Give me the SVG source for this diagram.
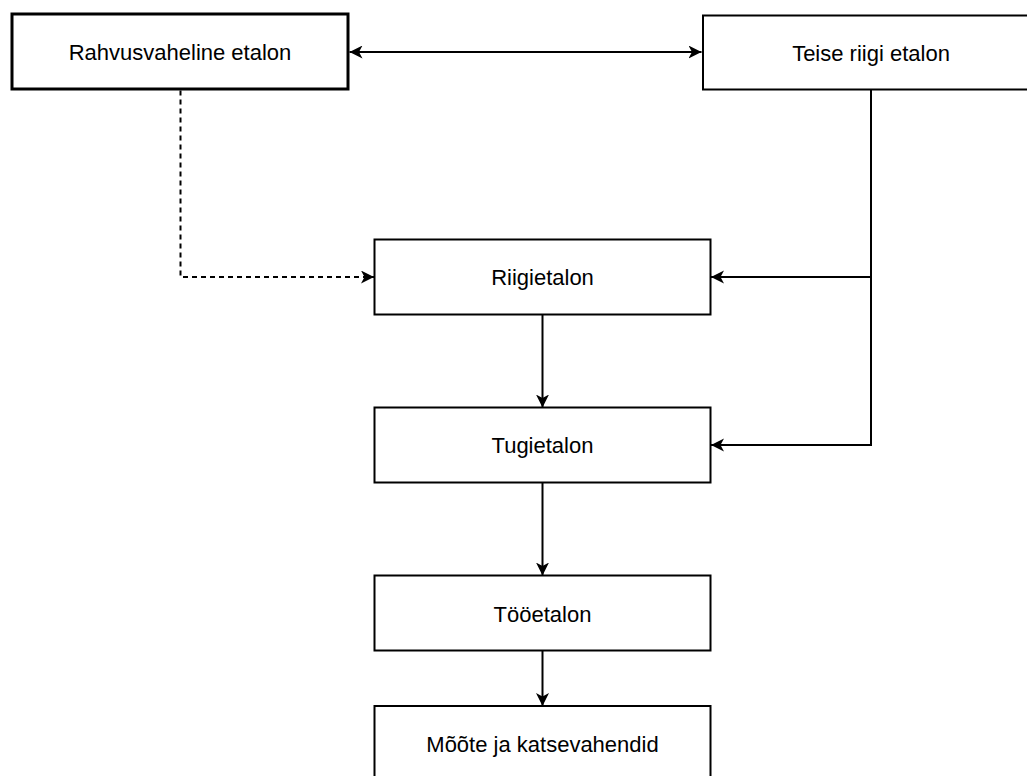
<svg xmlns="http://www.w3.org/2000/svg" width="1027" height="776" viewBox="0 0 1027 776">
  <style>
    .box { fill: #ffffff; stroke: #000000; stroke-width: 2; }
    .thick { stroke-width: 3; }
    .label { font-family: "Liberation Sans", Arial, sans-serif; font-size: 22px; fill: #000000; text-anchor: middle; }
    .edge { fill: none; stroke: #000000; stroke-width: 2; }
    .dashed { stroke-dasharray: 5 4; }
  </style>
  <defs>
    <marker id="arrow" markerUnits="userSpaceOnUse" markerWidth="14" markerHeight="14" refX="13" refY="6.5" orient="auto">
      <path d="M0,0 L13,6.5 L0,13 L3.5,6.5 Z" fill="#000000"/>
    </marker>
    <marker id="arrowStart" markerUnits="userSpaceOnUse" markerWidth="14" markerHeight="14" refX="0" refY="6.5" orient="auto">
      <path d="M13,0 L0,6.5 L13,13 L9.5,6.5 Z" fill="#000000"/>
    </marker>
  </defs>
  <rect width="1027" height="776" fill="#ffffff"/>

  <g id="connectors">
    <path class="edge" d="M349.5,52 H701.5" marker-start="url(#arrowStart)" marker-end="url(#arrow)"/>
    <path class="edge dashed" d="M180.5,90.5 V277 H374" marker-end="url(#arrow)"/>
    <path class="edge" d="M871,89.5 V445 H711" marker-end="url(#arrow)"/>
    <path class="edge" d="M871,277 H711" marker-end="url(#arrow)"/>
    <path class="edge" d="M542.5,314.5 V407.5" marker-end="url(#arrow)"/>
    <path class="edge" d="M542.5,482.5 V575.5" marker-end="url(#arrow)"/>
    <path class="edge" d="M542.5,650.5 V706" marker-end="url(#arrow)"/>
  </g>

  <g id="node-rahvusvaheline">
    <rect class="box thick" x="12" y="14" width="336" height="75"/>
    <text class="label" x="180" y="59.5">Rahvusvaheline etalon</text>
  </g>
  <g id="node-teise-riigi">
    <rect class="box" x="703" y="15.5" width="337" height="74"/>
    <text class="label" x="871" y="60.5">Teise riigi etalon</text>
  </g>
  <g id="node-riigietalon">
    <rect class="box" x="374.5" y="239.5" width="336" height="75"/>
    <text class="label" x="542.5" y="285">Riigietalon</text>
  </g>
  <g id="node-tugietalon">
    <rect class="box" x="374.5" y="407.5" width="336" height="75"/>
    <text class="label" x="542.5" y="453">Tugietalon</text>
  </g>
  <g id="node-tooetalon">
    <rect class="box" x="374.5" y="575.5" width="336" height="75"/>
    <text class="label" x="542.5" y="621.5">Tööetalon</text>
  </g>
  <g id="node-moote">
    <rect class="box" x="374.5" y="706" width="336" height="75"/>
    <text class="label" x="542.5" y="751.5">Mõõte ja katsevahendid</text>
  </g>
</svg>
